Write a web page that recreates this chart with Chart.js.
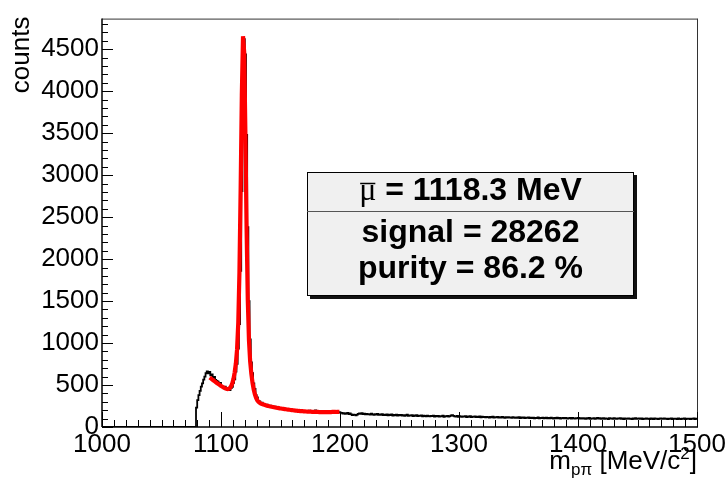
<!DOCTYPE html>
<html>
<head>
<meta charset="utf-8">
<script src="https://cdn.jsdelivr.net/npm/chart.js@4.4.0/dist/chart.umd.min.js"></script>
<style>
html,body{margin:0;padding:0;background:#fff;}
#wrap{width:728px;height:487px;}
</style>
</head>
<body>
<div id="wrap"><canvas id="c" width="728" height="487"></canvas></div>
<script>
// ---------------- data ----------------
const xRange = [1000, 1500];
const yRange = [0, 4865];
const xMajorTicks = [1000, 1100, 1200, 1300, 1400, 1500];
const yMajorTicks = [0, 500, 1000, 1500, 2000, 2500, 3000, 3500, 4000, 4500];
const xTitleParts = ['m', 'p\u03c0', ' [MeV/c', '2', ']'];
const yTitle = 'counts';
const statsLines = ['\u03bc', ' = 1118.3 MeV', 'signal = 28262', 'purity = 86.2 %'];

// histogram: 1 MeV bins, first filled bin starts at 1078 MeV
const histFirstBin = 1078;
const histBinWidth = 1;
const histCounts = [
  230,320,380,430,480,520,565,600,640,662,
  640,655,615,628,590,598,560,548,540,512,
  525,490,478,470,480,455,445,452,440,462,
  478,525,568,660,752,935,1225,1860,2810,3960,
  4620,4440,3480,2380,1500,1045,770,640,520,455,
  380,352,312,305,282,290,268,275,258,265,
  252,248,255,240,246,232,241,228,235,222,
  226,218,224,212,219,208,214,205,211,200,
  206,198,204,192,199,188,196,186,192,183,
  190,182,188,178,186,195,180,184,179,190,
  198,186,182,176,184,179,175,182,177,172,
  180,175,171,178,174,170,176,172,168,175,
  178,172,168,
  160,166,158,163,169,155,161,150,142,148,
  145,139,147,156,162,158,164,155,159,152,
  157,150,154,147,158,151,146,153,149,155,
  144,150,146,152,141,148,143,151,138,146,
  142,149,137,144,140,147,135,143,139,145,
  136,142,134,140,146,133,139,135,141,131,
  138,134,140,129,136,132,139,127,135,131,
  128,136,130,126,133,129,135,124,131,127,
  133,125,130,128,134,122,129,126,131,124,
  130,138,142,133,127,124,131,122,128,125,
  121,127,123,129,119,126,122,128,118,124,
  120,126,117,123,119,125,116,122,118,121,
  115,121,118,113,120,116,122,112,118,115,
  119,113,117,111,120,114,110,116,112,118,
  111,115,109,117,112,108,114,110,116,107,
  113,109,115,106,111,108,114,105,110,107,
  112,104,109,106,113,103,108,105,111,102,
  107,110,104,109,103,112,106,101,108,104,
  110,103,107,100,106,109,102,108,104,99,
  105,108,101,107,103,99,106,102,109,100,
  104,99,106,101,97,105,100,108,98,103,
  100,105,97,102,108,99,104,96,101,106,
  98,103,100,95,104,99,102,97,105,100,
  96,102,99,104,97,101,95,103,98,100,
  103,97,100,95,102,98,104,96,99,101,
  97,102,95,100,98,103,96,99,94,101,
  98,95,102,97,100,94,99,103,96,98,
  101,96,99,93,100,97,102,95,98,96,
  99,94,101,97,95,100,96,102,94,98,
  97,100,95,99,96,101,94,99,104
];

// fit curve values at bin centres, 1 MeV steps from 1090.5 to 1199.5 MeV
const fitFirstX = 1090.5;
const fitStep = 1;
const fitValues = [
  590,579,568,557,546,535,525,515,505,495,
  485,477,468,460,455,452,455,464,485,520,
  574,651,758,924,1238,1845,2829,3956,4655,4459,
  3500,2364,1516,1033,781,633,526,447,388,346,
  318,300,287,279,273,269,264,259,255,252,
  248,245,242,239,236,233,230,227,225,222,
  220,217,215,213,211,209,207,205,203,201,
  199,197,196,194,193,191,190,189,188,187,
  186,185,184,183,182,182,181,180,180,179,
  179,179,178,178,178,178,178,178,178,178,
  178,178,178,179,179,179,179,180,180,180
];

// ---------------- build datasets ----------------
// each point carries the value of the bin that ends at its x (stepped 'before')
const histPoints = [{x: xRange[0], y: 0}, {x: histFirstBin, y: 0}];
histCounts.forEach((c, i) => histPoints.push({x: histFirstBin + (i + 1) * histBinWidth, y: c}));
const fitPoints = fitValues.map((v, i) => ({x: fitFirstX + i * fitStep, y: v}));

const FONT = '"Liberation Sans", Arial, Helvetica, sans-serif';
const AXIS_FONT_SIZE = 26;

const rootPlugin = {
  id: 'rootStyle',
  beforeDraw(chart) {
    const c = chart.ctx;
    c.save(); c.fillStyle = '#fff'; c.fillRect(0, 0, chart.width, chart.height); c.restore();
  },
  afterDraw(chart) {
    const ctx = chart.ctx, a = chart.chartArea, xs = chart.scales.x, ys = chart.scales.y;
    ctx.save();
    // frame
    ctx.strokeStyle = '#333'; ctx.lineWidth = 1;
    ctx.beginPath();
    ctx.moveTo(a.left, a.top + 0.5); ctx.lineTo(a.right + 0.5, a.top + 0.5);
    ctx.moveTo(a.right + 0.5, a.top); ctx.lineTo(a.right + 0.5, a.bottom);
    ctx.stroke();
    ctx.strokeStyle = '#000'; ctx.lineWidth = 1.5;
    ctx.beginPath();
    ctx.moveTo(a.left, a.top); ctx.lineTo(a.left, a.bottom);
    ctx.moveTo(a.left, a.bottom); ctx.lineTo(a.right + 1, a.bottom);
    ctx.stroke();
    // inward ticks
    ctx.lineWidth = 1;
    ctx.beginPath();
    ys.ticks.forEach(t => {
      const y = Math.round(ys.getPixelForValue(t.value)) + 0.5;
      const len = yMajorTicks.includes(t.value) ? 11 : 6;
      ctx.moveTo(a.left, y); ctx.lineTo(a.left + len, y);
    });
    xs.ticks.forEach(t => {
      const x = Math.round(xs.getPixelForValue(t.value)) + 0.5;
      const len = xMajorTicks.includes(t.value) ? 15 : 7;
      ctx.moveTo(x, a.bottom); ctx.lineTo(x, a.bottom - len);
    });
    ctx.stroke();

    // y title
    ctx.fillStyle = '#000';
    ctx.save();
    ctx.translate(29, a.top - 2);
    ctx.rotate(-Math.PI / 2);
    ctx.font = AXIS_FONT_SIZE + 'px ' + FONT;
    ctx.textAlign = 'right'; ctx.textBaseline = 'alphabetic';
    ctx.fillText(yTitle, 0, 0);
    ctx.restore();

    // x title with sub/superscript, right-aligned at the axis end
    const big = AXIS_FONT_SIZE + 'px ' + FONT, small = '17px ' + FONT;
    const fonts = [big, small, big, small, big];
    const dy = [0, 6, 0, -10, 0];
    let widths = xTitleParts.map((s, i) => { ctx.font = fonts[i]; return ctx.measureText(s).width; });
    let total = widths.reduce((p, q) => p + q, 0);
    let x = a.right - total;
    const base = 469;
    ctx.textAlign = 'left'; ctx.textBaseline = 'alphabetic';
    xTitleParts.forEach((s, i) => { ctx.font = fonts[i]; ctx.fillText(s, x, base + dy[i]); x += widths[i]; });

    // stats box
    const bx = {l: 307, t: 172, r: 634, b: 296};
    ctx.fillStyle = '#111';
    ctx.fillRect(bx.l + 3, bx.t + 3, bx.r - bx.l, bx.b - bx.t);
    ctx.fillStyle = '#f0f0f0';
    ctx.fillRect(bx.l, bx.t, bx.r - bx.l, bx.b - bx.t);
    ctx.strokeStyle = '#000'; ctx.lineWidth = 1;
    ctx.strokeRect(bx.l + 0.5, bx.t + 0.5, bx.r - bx.l - 1, bx.b - bx.t - 1);
    ctx.strokeStyle = '#555';
    ctx.beginPath(); ctx.moveTo(bx.l, 211.5); ctx.lineTo(bx.r, 211.5); ctx.stroke();
    const cx = (bx.l + bx.r) / 2;
    ctx.fillStyle = '#000';
    const boldF = 'bold 32px ' + FONT, muF = '32px "Liberation Serif", serif';
    ctx.font = boldF; const wRest = ctx.measureText(statsLines[1]).width;
    ctx.font = muF; const wMu = ctx.measureText(statsLines[0]).width;
    let x0 = cx - (wMu + wRest) / 2;
    ctx.textAlign = 'left';
    ctx.fillText(statsLines[0], x0, 200);
    ctx.lineWidth = 1.5; ctx.strokeStyle = '#000';
    ctx.beginPath(); ctx.moveTo(x0 + 1, 183.5); ctx.lineTo(x0 + wMu - 1, 183.5); ctx.stroke();
    ctx.font = boldF; ctx.fillText(statsLines[1], x0 + wMu, 200);
    ctx.textAlign = 'center';
    ctx.fillText(statsLines[2], cx, 242);
    ctx.fillText(statsLines[3], cx, 278);
    ctx.restore();
  }
};

new Chart(document.getElementById('c'), {
  type: 'line',
  data: {
    datasets: [
      {label: 'fit', data: fitPoints, borderColor: '#ff0000', borderWidth: 4.2, pointRadius: 0, tension: 0, fill: false, order: 0},
      {label: 'data', data: histPoints, borderColor: '#000', borderWidth: 1.8, pointRadius: 0, stepped: 'before', fill: false, order: 1}
    ]
  },
  options: {
    responsive: false,
    animation: false,
    devicePixelRatio: 1,
    layout: {padding: {left: 0, right: 31, top: 13, bottom: 0}},
    plugins: {legend: {display: false}, tooltip: {enabled: false}},
    scales: {
      x: {
        type: 'linear', min: xRange[0], max: xRange[1],
        grid: {display: false, drawTicks: false},
        border: {display: false},
        ticks: {
          stepSize: 10, autoSkip: false, maxRotation: 0, minRotation: 0, includeBounds: false,
          padding: 2, color: '#000', font: {family: FONT, size: AXIS_FONT_SIZE},
          callback: v => xMajorTicks.includes(v) ? String(v) : ''
        },
        afterFit: s => { s.height = 60; }
      },
      y: {
        type: 'linear', min: yRange[0], max: yRange[1],
        grid: {display: false, drawTicks: false},
        border: {display: false},
        ticks: {
          stepSize: 100, autoSkip: false, includeBounds: false,
          padding: 3, color: '#000', font: {family: FONT, size: AXIS_FONT_SIZE},
          callback: v => yMajorTicks.includes(v) ? String(v) : ''
        },
        afterFit: s => { s.width = 102; }
      }
    }
  },
  plugins: [rootPlugin]
});
</script>
</body>
</html>
